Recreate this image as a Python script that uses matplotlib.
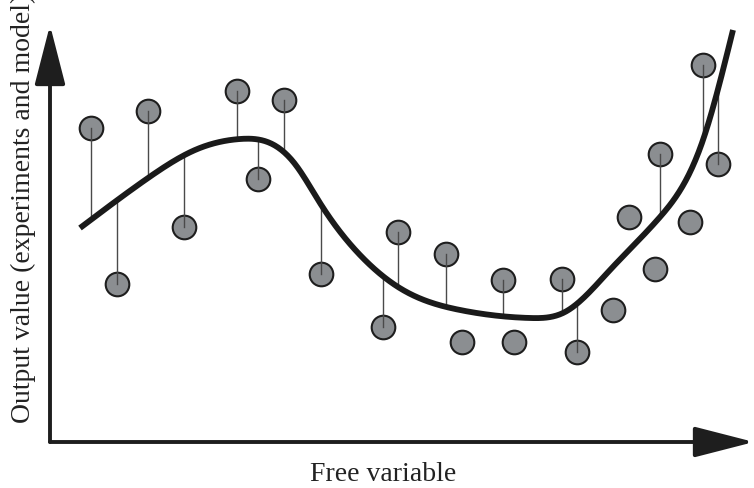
import numpy as np
import matplotlib
matplotlib.use('Agg')
import matplotlib.pyplot as plt
from matplotlib.patches import FancyArrowPatch

# measured points (free variable, output value)
pointX = [4.1, 6.7, 9.8, 13.4, 18.7, 20.8, 23.4, 27.1, 33.3, 34.8, 39.6, 41.2,
          45.3, 46.4, 51.2, 52.7, 56.3, 57.9, 60.5, 61.0, 64.0, 65.3, 66.8]
pointY = [31.4, 15.8, 33.1, 21.5, 35.1, 26.3, 34.2, 16.8, 11.5, 21.0, 18.8, 10.0,
          16.2, 10.0, 16.3, 9.0, 13.2, 22.5, 17.3, 28.8, 22.0, 37.7, 27.8]
# which points get a residual line to the model
hasResidual = [1, 1, 1, 1, 1, 1, 1, 1, 1, 1, 1, 0, 1, 0, 1, 1, 0, 0, 0, 1, 0, 1, 1]

# model curve knots
modelX = [3.0, 9.8, 14.5, 19.0, 22.0, 24.5, 27.0, 31.0, 35.3, 41.0, 48.0, 51.5, 56.0,
          61.0, 65.3, 68.3]
modelY = [21.4, 26.4, 29.2, 30.3, 29.9, 27.8, 23.9, 18.7, 15.2, 13.2, 12.4, 13.0, 17.2,
          22.5, 30.2, 41.2]


def naturalSpline(xs, ys, num=400):
    x = np.asarray(xs, float)
    y = np.asarray(ys, float)
    n = len(x)
    h = np.diff(x)
    A = np.zeros((n, n))
    b = np.zeros(n)
    A[0, 0] = 1
    A[-1, -1] = 1
    for i in range(1, n - 1):
        A[i, i - 1] = h[i - 1]
        A[i, i] = 2 * (h[i - 1] + h[i])
        A[i, i + 1] = h[i]
        b[i] = 6 * ((y[i + 1] - y[i]) / h[i] - (y[i] - y[i - 1]) / h[i - 1])
    m = np.linalg.solve(A, b)
    xx = np.linspace(x[0], x[-1], num)
    k = np.clip(np.searchsorted(x, xx) - 1, 0, n - 2)
    t0 = x[k + 1] - xx
    t1 = xx - x[k]
    hk = h[k]
    yy = (m[k] * t0 ** 3 + m[k + 1] * t1 ** 3) / (6 * hk) \
        + (y[k] / hk - m[k] * hk / 6) * t0 + (y[k + 1] / hk - m[k + 1] * hk / 6) * t1
    return xx, yy


fig = plt.figure(figsize=(7.54, 4.88), dpi=100)
ax = fig.add_axes([50 / 754, 46 / 488, 704 / 754, 417 / 488])
ax.set_xlim(0, 70.4)
ax.set_ylim(0, 41.7)
ax.axis('off')

curveX, curveY = naturalSpline(modelX, modelY)

for i in range(len(pointX)):
    if hasResidual[i]:
        yModel = np.interp(pointX[i], curveX, curveY)
        ax.plot([pointX[i], pointX[i]], [pointY[i], yModel], color='#4a4a4a', lw=1.0, zorder=4)

ax.plot(pointX, pointY, 'o', markersize=17, markerfacecolor='#8b8e91',
        markeredgecolor='#1e1e1e', markeredgewidth=1.5, zorder=3)

ax.plot(curveX, curveY, color='#1a1a1a', lw=4.2, solid_capstyle='butt', zorder=5)

# axes with arrows
for end in [(1, 0), (0, 1)]:
    arr = FancyArrowPatch((0, 0), end, transform=ax.transAxes,
                          arrowstyle='-|>,head_length=3.7,head_width=0.95',
                          mutation_scale=10, lw=2.8, color='#1e1e1e',
                          shrinkA=0, shrinkB=0, clip_on=False, zorder=6)
    ax.add_patch(arr)

fig.text(383 / 754, 7 / 488, 'Free variable', family='Liberation Serif', fontsize=20,
         ha='center', va='baseline', color='#222222')
fig.text(36 / 754, 65 / 488, 'Output value (experiments and model)', family='Liberation Serif',
         fontsize=20, rotation=90, ha='right', va='bottom', color='#222222')

fig.savefig('out.png', dpi=100)
